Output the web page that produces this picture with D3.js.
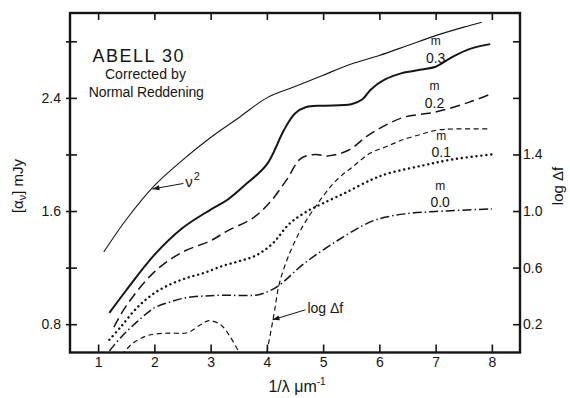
<!DOCTYPE html>
<html>
<head>
<meta charset="utf-8">
<script src="https://cdn.jsdelivr.net/npm/d3@7"></script>
<style>
body { margin: 0; background: #fff; }
text { font-family: "Liberation Sans", Arial, sans-serif; fill: #151515; }
.axis text { font-size: 14px; }
</style>
</head>
<body>
<svg id="chart" width="570" height="398"></svg>
<script>
/*************************************************
    Data:
 *************************************************/
var xTicks = [1, 2, 3, 4, 5, 6, 7, 8];
var leftTicks = [0.8, 1.2, 1.6, 2.0, 2.4, 2.8];
var leftLabels = ["0.8", "", "1.6", "", "2.4", ""];
var rightTicks = [0.2, 0.6, 1.0, 1.4, 1.8, 2.2];
var rightLabels = ["0.2", "0.6", "1.0", "1.4", "", ""];

// [1/lambda, alpha_nu (mJy)]
var nuSquared = [[1.1, 1.31], [1.5, 1.54], [2, 1.78], [2.5, 1.96], [3, 2.12], [3.5, 2.26],
    [4, 2.40], [4.5, 2.48], [5, 2.56], [5.5, 2.64], [6, 2.70], [6.5, 2.77], [7, 2.84],
    [7.5, 2.90], [7.82, 2.935]];
var m03 = [[1.2, 0.88], [1.5, 1.04], [2, 1.29], [2.5, 1.48], [3, 1.61], [3.3, 1.68],
    [3.6, 1.78], [4, 1.93], [4.3, 2.17], [4.5, 2.29], [4.7, 2.335], [5, 2.345], [5.5, 2.355],
    [5.7, 2.39], [5.85, 2.46], [6.1, 2.53], [6.4, 2.575], [6.75, 2.60], [7, 2.62],
    [7.3, 2.69], [7.6, 2.745], [7.97, 2.78]];
var m02 = [[1.28, 0.78], [1.5, 0.93], [2, 1.17], [2.5, 1.31], [3, 1.39], [3.3, 1.46],
    [3.75, 1.55], [4.05, 1.66], [4.35, 1.82], [4.6, 1.97], [4.85, 2.0], [5.1, 1.99],
    [5.45, 2.03], [5.8, 2.135], [6.15, 2.215], [6.45, 2.265], [7, 2.30], [7.6, 2.37],
    [8.0, 2.43]];
var m01 = [[1.2, 0.69], [1.4, 0.78], [1.7, 0.92], [2, 1.02], [2.3, 1.085], [2.6, 1.13],
    [2.9, 1.165], [3.2, 1.21], [3.5, 1.245], [3.8, 1.285], [4.1, 1.37], [4.4, 1.51],
    [4.7, 1.595], [5, 1.655], [5.4, 1.73], [5.85, 1.82], [6.15, 1.865], [6.75, 1.92],
    [7.3, 1.965], [8.0, 2.0]];
var m00 = [[1.2, 0.61], [1.4, 0.705], [1.7, 0.82], [2, 0.915], [2.3, 0.96], [2.6, 0.99],
    [2.9, 1.0], [3.2, 1.005], [3.8, 1.005], [3.95, 1.02], [4.2, 1.07], [4.65, 1.225],
    [5.25, 1.39], [5.85, 1.525], [6.15, 1.56], [6.45, 1.58], [7.0, 1.597], [8.0, 1.615]];

// [1/lambda, log delta f] (right axis)
var logDfLow = [[1.42, -0.02], [1.6, 0.06], [1.88, 0.12], [2.23, 0.137], [2.59, 0.14],
    [2.82, 0.196], [2.97, 0.225], [3.18, 0.196], [3.35, 0.11], [3.52, -0.01]];
var logDfHigh = [[4.0, 0.0], [4.12, 0.255], [4.24, 0.515], [4.54, 0.82], [4.89, 1.046],
    [5.25, 1.223], [5.54, 1.317], [5.84, 1.41], [6.14, 1.458], [6.43, 1.506], [6.73, 1.541],
    [7.02, 1.572], [7.32, 1.58], [7.97, 1.58]];

/*************************************************
    Layout:
 *************************************************/
var frame = {left: 70, right: 520, top: 13, bottom: 352.5};

var x = d3.scaleLinear().domain([0.5, 8.5]).range([frame.left, frame.right]);
var yLeft = d3.scaleLinear().domain([0.6, 3.0]).range([frame.bottom, frame.top]);
var yRight = d3.scaleLinear().domain([0, 2.4]).range([frame.bottom, frame.top]);

var svg = d3.select("#chart");

svg.append("defs").append("clipPath").attr("id", "plot-clip")
    .append("rect")
    .attr("x", frame.left).attr("y", frame.top)
    .attr("width", frame.right - frame.left).attr("height", frame.bottom - frame.top);

svg.select("defs").append("marker")
    .attr("id", "arrow")
    .attr("viewBox", "0 0 10 10")
    .attr("refX", 10).attr("refY", 5)
    .attr("markerWidth", 9).attr("markerHeight", 7)
    .attr("markerUnits", "userSpaceOnUse")
    .attr("orient", "auto")
    .append("path").attr("d", "M0,1.5L10,5L0,8.5Z").attr("fill", "#151515");

/*************************************************
    Axes:
 *************************************************/
function styleAxis(g) {
    g.select(".domain").remove();
    g.selectAll(".tick line").attr("stroke", "#151515").attr("stroke-width", 1.6);
    g.selectAll("text").attr("fill", "#151515").style("font-size", "14px");
}

svg.append("g").attr("class", "axis")
    .attr("transform", "translate(0," + frame.bottom + ")")
    .call(d3.axisBottom(x).tickValues(xTicks).tickSize(-8).tickPadding(5)
        .tickFormat(d3.format("d")))
    .call(styleAxis);

svg.append("g").attr("class", "axis")
    .attr("transform", "translate(0," + frame.top + ")")
    .call(d3.axisTop(x).tickValues(xTicks).tickSize(-7).tickFormat(""))
    .call(styleAxis);

svg.append("g").attr("class", "axis")
    .attr("transform", "translate(" + frame.left + ",0)")
    .call(d3.axisLeft(yLeft).tickValues(leftTicks).tickSize(4).tickPadding(5)
        .tickFormat(function(d, i) { return leftLabels[i]; }))
    .call(styleAxis);

svg.append("g").attr("class", "axis")
    .attr("transform", "translate(" + frame.left + ",0)")
    .call(d3.axisRight(yLeft).tickValues(leftTicks).tickSize(7).tickFormat(""))
    .call(styleAxis);

svg.append("g").attr("class", "axis")
    .attr("transform", "translate(" + frame.right + ",0)")
    .call(d3.axisRight(yRight).tickValues(rightTicks).tickSize(-7).tickPadding(3)
        .tickFormat(function(d, i) { return rightLabels[i]; }))
    .call(styleAxis);

svg.append("rect")
    .attr("x", frame.left).attr("y", frame.top)
    .attr("width", frame.right - frame.left).attr("height", frame.bottom - frame.top)
    .attr("fill", "none").attr("stroke", "#151515").attr("stroke-width", 2.4);

// axis titles
svg.append("text")
    .attr("transform", "translate(23," + 186 + ") rotate(-90)")
    .attr("text-anchor", "middle").style("font-size", "15px")
    .call(function(t) {
        t.append("tspan").text("[α");
        t.append("tspan").attr("dy", 3).style("font-size", "11px").text("ν");
        t.append("tspan").attr("dy", -3).text("] mJy");
    });

svg.append("text")
    .attr("transform", "translate(563," + 186 + ") rotate(-90)")
    .attr("text-anchor", "middle").style("font-size", "15px")
    .text("log Δf");

svg.append("text")
    .attr("x", 297).attr("y", 392)
    .attr("text-anchor", "middle").style("font-size", "16px")
    .call(function(t) {
        t.append("tspan").text("1/λ  μm");
        t.append("tspan").attr("dy", -7).style("font-size", "10px").text("-1");
    });

/*************************************************
    Curves:
 *************************************************/
var plot = svg.append("g").attr("clip-path", "url(#plot-clip)");

var leftLine = d3.line()
    .x(function(d) { return x(d[0]); })
    .y(function(d) { return yLeft(d[1]); })
    .curve(d3.curveCatmullRom.alpha(0.5));

var rightLine = d3.line()
    .x(function(d) { return x(d[0]); })
    .y(function(d) { return yRight(d[1]); })
    .curve(d3.curveCatmullRom.alpha(0.5));

var series = [
    {data: nuSquared, line: leftLine, width: 1.1, dash: null},
    {data: m03, line: leftLine, width: 2.0, dash: null},
    {data: m02, line: leftLine, width: 1.5, dash: "10,5"},
    {data: m01, line: leftLine, width: 2.4, dash: "0.1,4.8"},
    {data: m00, line: leftLine, width: 1.5, dash: "9,3,1.5,3"},
    {data: logDfLow, line: rightLine, width: 1.2, dash: "5,3.5"},
    {data: logDfHigh, line: rightLine, width: 1.2, dash: "5,3.5"}
];

series.forEach(function(s) {
    plot.append("path")
        .attr("d", s.line(s.data))
        .attr("fill", "none")
        .attr("stroke", "#151515")
        .attr("stroke-width", s.width)
        .attr("stroke-linecap", s.dash === "0.1,4.8" ? "round" : "butt")
        .attr("stroke-dasharray", s.dash);
});

/*************************************************
    Annotations:
 *************************************************/
var titleLines = [
    {text: "ABELL  30", x: 0.90, y: 2.652, size: 18, len: 91},
    {text: "Corrected by", x: 1.12, y: 2.53, size: 14, len: 81},
    {text: "Normal Reddening", x: 0.835, y: 2.404, size: 14, len: 115}
];
titleLines.forEach(function(d) {
    svg.append("text")
        .attr("x", x(d.x)).attr("y", yLeft(d.y))
        .attr("textLength", d.len).attr("lengthAdjust", "spacing")
        .style("font-size", d.size + "px")
        .text(d.text);
});

var curveLabels = [
    {name: "0.3", x: 7.0, m: 2.771, v: 2.645},
    {name: "0.2", x: 6.98, m: 2.454, v: 2.329},
    {name: "0.1", x: 7.10, m: 2.100, v: 1.984},
    {name: "0.0", x: 7.08, m: 1.746, v: 1.630}
];
curveLabels.forEach(function(d) {
    svg.append("text")
        .attr("x", x(d.x)).attr("y", yLeft(d.m))
        .attr("text-anchor", "middle").style("font-size", "12px")
        .text("m");
    svg.append("text")
        .attr("x", x(d.x)).attr("y", yLeft(d.v))
        .attr("text-anchor", "middle").style("font-size", "14px")
        .text(d.name);
});

// nu^2 pointer
svg.append("line")
    .attr("x1", x(2.516)).attr("y1", yLeft(1.795))
    .attr("x2", x(1.965)).attr("y2", yLeft(1.756))
    .attr("stroke", "#151515").attr("stroke-width", 1)
    .attr("marker-end", "url(#arrow)");
svg.append("text")
    .attr("x", x(2.55)).attr("y", yLeft(1.772))
    .style("font-size", "15px")
    .call(function(t) {
        t.append("tspan").text("ν");
        t.append("tspan").attr("dy", -7).attr("dx", 1).style("font-size", "11px").text("2");
    });

// log delta f pointer
svg.append("line")
    .attr("x1", x(4.687)).attr("y1", yRight(0.302))
    .attr("x2", x(4.10)).attr("y2", yRight(0.231))
    .attr("stroke", "#151515").attr("stroke-width", 1)
    .attr("marker-end", "url(#arrow)");
svg.append("text")
    .attr("x", x(4.72)).attr("y", yRight(0.28))
    .style("font-size", "14px")
    .text("log  Δf");
</script>
</body>
</html>
